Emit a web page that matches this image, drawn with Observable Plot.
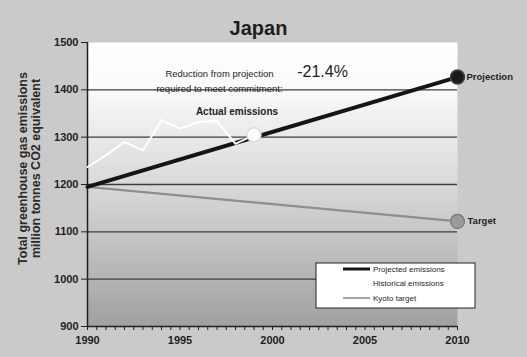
<!DOCTYPE html>
<html>
<head>
<meta charset="utf-8">
<script src="https://cdn.jsdelivr.net/npm/d3@7"></script>
<script src="https://cdn.jsdelivr.net/npm/@observablehq/plot@0.6"></script>
<style>
  html, body { margin: 0; padding: 0; background: #cacaca; }
  #chart svg { display: block; }
</style>
</head>
<body>
<div id="chart"></div>
<script>
// Japan: greenhouse gas emissions, million tonnes CO2 equivalent
const histYears = [1990, 1991, 1992, 1993, 1994, 1995, 1996, 1997, 1998, 1999];
const historical = [1237, 1262, 1290, 1272, 1336, 1318, 1332, 1334, 1286, 1305];
const endYears = [1990, 2010];
const projected = [1195, 1427];
const kyoto = [1195, 1122];
const yTicks = [900, 1000, 1100, 1200, 1300, 1400, 1500];
const gridValues = [1000, 1100, 1200, 1300, 1400];
const xTicks = d3.range(1990, 2010.001, 0.5);
const seriesNames = ["Projected emissions", "Historical emissions", "Kyoto target"];
const seriesColors = ["#151515", "#ffffff", "#8e8e8e"];

const projRows = endYears.map((x, i) => ({x, y: projected[i]}));
const kyotoRows = endYears.map((x, i) => ({x, y: kyoto[i]}));
const histRows = histYears.map((x, i) => ({x, y: historical[i]}));
const lastProj = projRows[projRows.length - 1];
const lastKyoto = kyotoRows[kyotoRows.length - 1];
const lastHist = histRows[histRows.length - 1];
const reduction = (lastKyoto.y / lastProj.y - 1) * 100;

const sans = "'Liberation Sans', Arial, sans-serif";

const chart = Plot.plot({
  width: 527,
  height: 357,
  marginLeft: 87,
  marginRight: 70,
  marginTop: 42,
  marginBottom: 31,
  style: {background: "#cacaca", fontFamily: sans, color: "#1e1e1e"},
  x: {domain: [1990, 2010]},
  y: {domain: [900, 1500]},
  marks: [
    Plot.frame({fill: "url(#plotShade)", stroke: null}),
    Plot.ruleY(gridValues, {stroke: "#3c3c3c", strokeWidth: 1.3}),
    Plot.ruleX([1990], {stroke: "#222", strokeWidth: 1.5}),
    Plot.ruleY([900], {stroke: "#222", strokeWidth: 1.5}),
    Plot.axisY({
      ticks: yTicks, tickSize: 6, tickPadding: 3, tickFormat: d => String(d),
      fontWeight: "bold", fontSize: 11, label: null, stroke: "#222"
    }),
    Plot.axisX({
      ticks: xTicks, tickSize: 4, tickPadding: 6,
      tickFormat: d => (d % 5 === 0 ? String(d) : ""),
      fontWeight: "bold", fontSize: 11, label: null, stroke: "#222"
    }),
    // title
    Plot.text(["Japan"], {
      frameAnchor: "top", dx: -14, dy: -22, fontSize: 20, fontWeight: "bold", fill: "#1e1e1e"
    }),
    // y-axis title, two lines
    Plot.text(["Total greenhouse gas emissions\nmillion tonnes CO2 equivalent"], {
      frameAnchor: "left", textAnchor: "middle", rotate: -90, dx: -58, dy: -16,
      fontSize: 12.5, fontWeight: "bold", lineHeight: 1.05, fill: "#2a2a2a"
    }),
    // series
    Plot.line(kyotoRows, {x: "x", y: "y", stroke: seriesColors[2], strokeWidth: 2.4}),
    Plot.line(projRows, {x: "x", y: "y", stroke: seriesColors[0], strokeWidth: 4}),
    Plot.line(histRows, {x: "x", y: "y", stroke: seriesColors[1], strokeWidth: 2}),
    Plot.dot([lastProj], {x: "x", y: "y", r: 7, fill: "#1a1a1a", stroke: "#444"}),
    Plot.dot([lastKyoto], {x: "x", y: "y", r: 7, fill: "#9a9a9a", stroke: "#777", strokeWidth: 1.2}),
    Plot.dot([lastHist], {x: "x", y: "y", r: 7, fill: "#ffffff", stroke: "#dcdcdc"}),
    // point labels
    Plot.text([lastProj], {x: "x", y: "y", text: () => "Projection", textAnchor: "start", dx: 9,
      fontSize: 9.5, fontWeight: "bold", fill: "#1e1e1e"}),
    Plot.text([lastKyoto], {x: "x", y: "y", text: () => "Target", textAnchor: "start", dx: 10,
      fontSize: 9.5, fontWeight: "bold", fill: "#1e1e1e"}),
    Plot.text([lastHist], {x: "x", y: "y", text: () => "Actual emissions", dx: -17, dy: -23,
      fontSize: 10, fontWeight: "bold", fill: "#1e1e1e"}),
    // reduction note
    Plot.text(["Reduction from projection\nrequired to meet commitment:"], {
      frameAnchor: "top-left", textAnchor: "middle", dx: 132, dy: 24, fontSize: 9.5,
      lineHeight: 1.6, fill: "#1e1e1e"
    }),
    Plot.text([reduction], {
      frameAnchor: "top-left", textAnchor: "middle", dx: 235, dy: 23,
      text: d => d.toFixed(1) + "%", fontSize: 16, fill: "#1e1e1e"
    })
  ]
});

// plot-area shading: white at the top, darkening toward the bottom
d3.select(chart).insert("defs", ":first-child").html(`
  <linearGradient id="plotShade" x1="0" y1="0" x2="0" y2="1">
    <stop offset="0" stop-color="#ffffff"/>
    <stop offset="0.15" stop-color="#fbfbfb"/>
    <stop offset="0.5" stop-color="#d9d9d9"/>
    <stop offset="1" stop-color="#a0a0a0"/>
  </linearGradient>`);

// legend box
const legend = d3.select(chart).append("g")
  .attr("font-family", sans).attr("font-size", 8).attr("fill", "#1e1e1e")
  .attr("text-anchor", "start");
legend.append("rect")
  .attr("x", 316).attr("y", 263).attr("width", 159).attr("height", 45)
  .attr("fill", "#ffffff").attr("stroke", "#222").attr("stroke-width", 1);
seriesNames.forEach((name, i) => {
  const yy = 269 + i * 14.5;
  legend.append("line")
    .attr("x1", 343).attr("x2", 370).attr("y1", yy).attr("y2", yy)
    .attr("stroke", seriesColors[i]).attr("stroke-width", i === 0 ? 3 : 1.6);
  legend.append("text")
    .attr("x", 373).attr("y", yy).attr("dy", "0.32em").text(name);
});

document.getElementById("chart").appendChild(chart);
</script>
</body>
</html>
